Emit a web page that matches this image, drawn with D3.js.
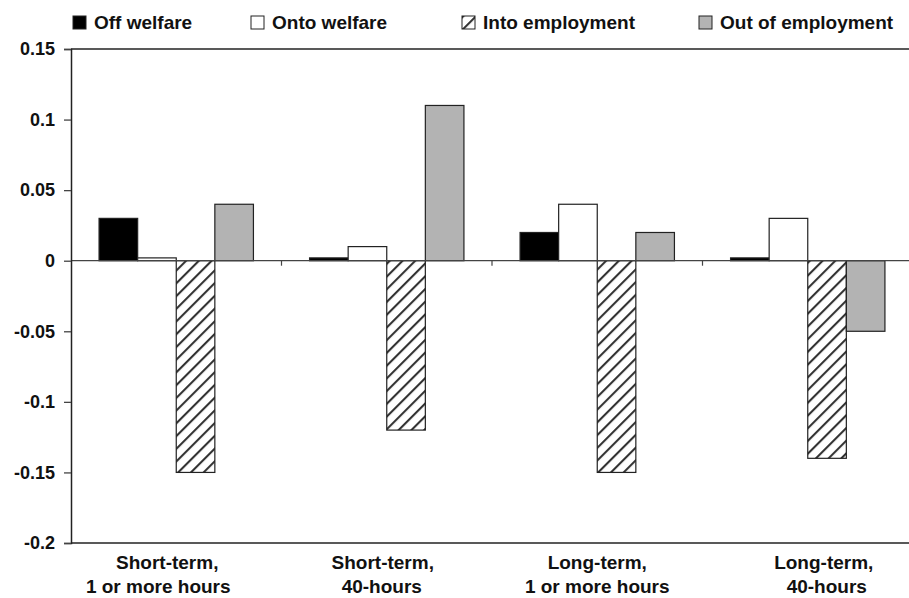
<!DOCTYPE html>
<html><head><meta charset="utf-8">
<script src="https://cdn.jsdelivr.net/npm/d3@7"></script>
<style>body{margin:0;background:#fff}svg{display:block}text{font-family:"Liberation Sans",Arial,sans-serif;font-weight:bold;fill:#111}</style>
</head><body><svg id="c" width="909" height="598"></svg>
<script>
const categories = [["Short-term,","1 or more hours"],["Short-term,","40-hours"],["Long-term,","1 or more hours"],["Long-term,","40-hours"]];
const seriesNames = ["Off welfare","Onto welfare","Into employment","Out of employment"];
const offWelfare = [0.03, 0.002, 0.02, 0.002];
const ontoWelfare = [0.002, 0.01, 0.04, 0.03];
const intoEmployment = [-0.15, -0.12, -0.15, -0.14];
const outOfEmployment = [0.04, 0.11, 0.02, -0.05];
const yTicks = [0.15, 0.1, 0.05, 0, -0.05, -0.1, -0.15, -0.2];
const yTickLabels = ["0.15","0.1","0.05","0","-0.05","-0.1","-0.15","-0.2"];

const series = [offWelfare, ontoWelfare, intoEmployment, outOfEmployment];
const fills = ["#000", "#fff", "url(#hatch)", "#b3b3b3"];

// layout (not data)
const L = 71, R = 913, T = 49, B = 543;
const labelShift = [[-9,-18],[-4,-5],[0,0],[16,19]];
const legendBoxX = [73, 251, 462, 699];

const svg = d3.select("#c");
const defs = svg.append("defs");
const pat = defs.append("pattern").attr("id","hatch").attr("patternUnits","userSpaceOnUse")
  .attr("width",9).attr("height",9).attr("patternTransform","rotate(45)");
pat.append("rect").attr("width",9).attr("height",9).attr("fill","#fff");
pat.append("line").attr("x1",1).attr("y1",0).attr("x2",1).attr("y2",9).attr("stroke","#333").attr("stroke-width",2.2);

const x0 = d3.scaleBand().domain(d3.range(categories.length)).range([L, R]);
const x1 = d3.scaleBand().domain(d3.range(series.length)).range([0, x0.bandwidth()]).paddingOuter(28/38.5).paddingInner(0);
const y = d3.scaleLinear().domain([-0.2, 0.15]).range([B, T]);

// frame lines
svg.append("line").attr("x1",L).attr("x2",R).attr("y1",T).attr("y2",T).attr("stroke","#222").attr("stroke-width",1.5);
svg.append("line").attr("x1",L).attr("x2",R).attr("y1",B).attr("y2",B).attr("stroke","#222").attr("stroke-width",1.5);

// bars
series.forEach((vals, si) => {
  svg.append("g").selectAll("rect").data(vals).join("rect")
    .attr("x", (d,i) => x0(i) + x1(si))
    .attr("width", x1.bandwidth())
    .attr("y", d => y(Math.max(0,d)))
    .attr("height", d => Math.abs(y(d) - y(0)))
    .attr("fill", fills[si])
    .attr("stroke", "#222").attr("stroke-width", 1.2);
});

// zero line
svg.append("line").attr("x1",L).attr("x2",R).attr("y1",y(0)).attr("y2",y(0)).attr("stroke","#444").attr("stroke-width",1.3);
svg.append("g").selectAll("line").data(d3.range(1, categories.length)).join("line")
  .attr("x1", i => x0(i)).attr("x2", i => x0(i)).attr("y1", y(0)).attr("y2", y(0)+5)
  .attr("stroke","#444").attr("stroke-width",1.2);

// y axis
const yAxis = d3.axisLeft(y).tickValues(yTicks).tickSize(7).tickPadding(9)
  .tickFormat((d,i) => yTickLabels[i]);
const ga = svg.append("g").attr("transform",`translate(${L},0)`).call(yAxis);
ga.select(".domain").attr("stroke","#222").attr("stroke-width",1.5);
ga.selectAll(".tick line").attr("stroke","#444").attr("stroke-width",1.3);
ga.selectAll(".tick text").style("font-size","18px").attr("fill","#111");

// category labels
const cx = i => x0(i) + x0.bandwidth()/2;
const cl = svg.append("g").selectAll("text").data(categories).join("text")
  .attr("text-anchor","middle").attr("y",569).style("font-size","19px");
cl.append("tspan").attr("x",(d,i)=> cx(i) + labelShift[i][0]).text(d=>d[0]);
cl.append("tspan").attr("x",(d,i)=> cx(i) + labelShift[i][1]).attr("dy",24).text(d=>d[1]);

// legend
const lg = svg.append("g").selectAll("g").data(seriesNames).join("g")
  .attr("transform",(d,i)=>`translate(${legendBoxX[i]},16)`);
lg.append("rect").attr("width",13).attr("height",13).attr("fill",(d,i)=>fills[i]).attr("stroke","#222").attr("stroke-width",1);
lg.append("text").attr("x",21).attr("y",13).style("font-size","19px").text(d=>d);
</script></body></html>
